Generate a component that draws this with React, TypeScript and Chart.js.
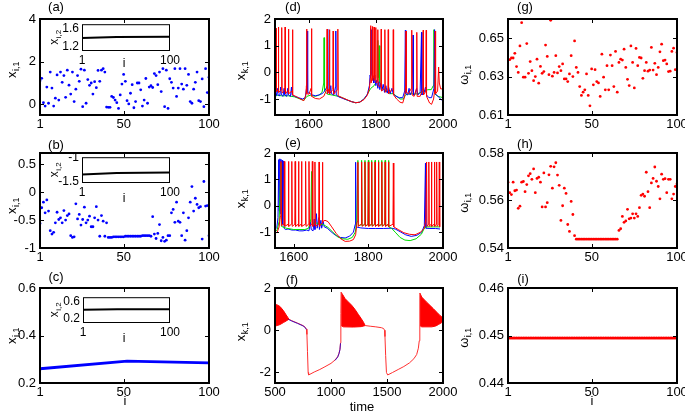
import { useEffect, useRef } from "react";
import { Chart, registerables } from "chart.js";
Chart.register(...registerables);

const FONT = "'Liberation Sans', Arial, Helvetica, sans-serif";

// ---------------- data ----------------
const INDEX = [
  1, 2, 3, 4, 5, 6, 7, 8, 9, 10, 11, 12, 13, 14, 15, 16, 17, 18, 19, 20,
  21, 22, 23, 24, 25, 26, 27, 28, 29, 30, 31, 32, 33, 34, 35, 36, 37, 38, 39, 40,
  41, 42, 43, 44, 45, 46, 47, 48, 49, 50, 51, 52, 53, 54, 55, 56, 57, 58, 59, 60,
  61, 62, 63, 64, 65, 66, 67, 68, 69, 70, 71, 72, 73, 74, 75, 76, 77, 78, 79, 80,
  81, 82, 83, 84, 85, 86, 87, 88, 89, 90, 91, 92, 93, 94, 95, 96, 97, 98, 99, 100,
];

const A_VALUES = [
  1.11, 1.22, 0.08, -0.08, 0.81, 0.05, 1.51, 0.76, -0.08, 0.29,
  1.38, 0.2, 1.51, 1.03, 1.35, 0.33, 1.6, 0.9, 0.48, 1.51,
  0.13, 0.71, 1.35, 1.08, 1.65, -0.11, 1.6, 0.05, 1.16, 0.89,
  1.0, 0.48, 1.06, 0.78, 1.59, 1.08, 1.6, 1.67, 1.51, -0.13,
  -0.14, -0.14, 0.37, 0.32, 0.2, 0.08, -0.19, 0.44, 0.95, 1.4,
  1.08, 0.17, 0.02, 0.52, 0.92, -0.16, 0.13, 1.0, 1.0, 0.68,
  -0.08, 0.2, 1.21, 0.05, 0.81, 0.87, 0.79, 1.44, 1.35, 0.92,
  1.51, 0.6, 1.67, -0.11, 1.6, -0.19, 1.2, 1.03, 0.76, 1.67,
  0.37, 0.76, 1.67, 0.95, 0.71, 1.67, 0.89, 1.4, 0.13, 0.05,
  0.71, 1.03, 1.51, 0.17, 0.13, 1.19, -0.11, 1.67, 0.55, 1.27,
];

const B_VALUES = [
  -0.56, -0.28, -0.18, -0.37, -0.14, -0.34, -0.69, -0.75, -0.72, -0.55,
  -0.36, -0.49, -0.46, -0.55, -0.33, -0.5, -0.42, -0.39, -0.78, -0.81,
  -0.8, -0.21, -0.48, -0.4, -0.59, -0.49, -0.27, -0.55, -0.5, -0.43,
  -0.62, -0.62, -0.46, -0.26, -0.5, -0.79, -0.42, -0.52, -0.79, -0.55,
  -0.81, -0.81, -0.81, -0.8, -0.8, -0.8, -0.8, -0.8, -0.8, -0.8,
  -0.79, -0.79, -0.79, -0.79, -0.79, -0.79, -0.79, -0.79, -0.79, -0.79,
  -0.78, -0.78, -0.78, -0.78, -0.78, -0.79, -0.44, -0.75, -0.83, -0.74,
  -0.58, -0.87, -0.81, -0.88, -0.86, -0.78, -0.78, -0.37, -0.31, -0.54,
  -0.18, -0.52, -0.54, -0.78, -0.37, -0.86, -0.69, -0.46, -0.18, 0.1,
  -0.34, -0.11, -0.22, -0.28, -0.26, -0.84, 0.19, -0.25, -0.24, -0.78,
];

const C_INDEX = [1, 52, 100];
const C_VALUES = [0.26, 0.292, 0.285];

const INSET_INDEX = [1, 40, 100];
const INSET_A = [1.39, 1.415, 1.42];
const INSET_B = [-1.34, -1.31, -1.3];
const INSET_C = [0.41, 0.418, 0.42];

const G_VALUES = [
  0.6386, 0.6388, 0.6397, 0.6397, 0.6421, 0.6352, 0.6322, 0.646, 0.6581, 0.6297,
  0.6297, 0.6472, 0.6317, 0.6378, 0.6331, 0.6279, 0.63, 0.6391, 0.6266, 0.6353,
  0.6317, 0.6326, 0.6464, 0.6405, 0.631, 0.6593, 0.6302, 0.6322, 0.6409, 0.6319,
  0.6352, 0.6331, 0.6366, 0.6288, 0.6288, 0.6274, 0.6314, 0.6409, 0.63, 0.6486,
  0.6348, 0.6322, 0.6248, 0.6202, 0.6219, 0.6231, 0.6314, 0.6202, 0.6148, 0.634,
  0.6257, 0.6336, 0.6274, 0.6267, 0.6197, 0.6417, 0.6297, 0.6231, 0.6357, 0.6231,
  0.6412, 0.6357, 0.6248, 0.6431, 0.6219, 0.6374, 0.6391, 0.6386, 0.6443, 0.6348,
  0.6286, 0.6253, 0.646, 0.6374, 0.6241, 0.6447, 0.6357, 0.64, 0.6397, 0.6291,
  0.6331, 0.6374, 0.6328, 0.6334, 0.6452, 0.6334, 0.6369, 0.631, 0.6348, 0.6429,
  0.6469, 0.6383, 0.6386, 0.6366, 0.6326, 0.6328, 0.6431, 0.6448, 0.6336, 0.6426,
];

const H_VALUES = [
  0.5677, 0.5633, 0.5625, 0.5677, 0.5641, 0.5644, 0.5567, 0.5576, 0.5677, 0.568,
  0.5637, 0.5667, 0.5704, 0.5713, 0.5689, 0.5733, 0.5633, 0.5693, 0.5698, 0.5677,
  0.5573, 0.5716, 0.5573, 0.5591, 0.5708, 0.5744, 0.5652, 0.5742, 0.5759, 0.5707,
  0.5664, 0.5516, 0.5578, 0.5652, 0.563, 0.5499, 0.547, 0.5596, 0.5541, 0.5452,
  0.5437, 0.5437, 0.5437, 0.5437, 0.5437, 0.5437, 0.5437, 0.5437, 0.5437, 0.5437,
  0.5437, 0.5437, 0.5437, 0.5437, 0.5437, 0.5437, 0.5437, 0.5437, 0.5437, 0.5437,
  0.5437, 0.5437, 0.5437, 0.5437, 0.5437, 0.5474, 0.5481, 0.5533, 0.5508, 0.5514,
  0.5563, 0.5523, 0.5526, 0.5544, 0.5526, 0.5544, 0.5533, 0.557, 0.5622, 0.5627,
  0.5618, 0.5719, 0.5637, 0.557, 0.5674, 0.5693, 0.5741, 0.5681, 0.5659, 0.5607,
  0.5711, 0.5689, 0.5692, 0.5633, 0.5689, 0.5689, 0.5607, 0.5627, 0.5659, 0.567,
];

const I_VALUES = [
  0.4495, 0.4495, 0.4495, 0.4495, 0.4495, 0.4495, 0.4495, 0.4495, 0.4495, 0.4495,
  0.4495, 0.4495, 0.4495, 0.4495, 0.4495, 0.4495, 0.4495, 0.4495, 0.4495, 0.4495,
  0.4495, 0.4495, 0.4495, 0.4495, 0.4495, 0.4495, 0.4495, 0.4495, 0.4495, 0.4495,
  0.4495, 0.4495, 0.4495, 0.4495, 0.4495, 0.4495, 0.4495, 0.4495, 0.4495, 0.4495,
  0.4495, 0.4495, 0.4495, 0.4495, 0.4495, 0.4495, 0.4495, 0.4495, 0.4495, 0.4495,
  0.4495, 0.4495, 0.4495, 0.4495, 0.4495, 0.4495, 0.4495, 0.4495, 0.4495, 0.4495,
  0.4495, 0.4495, 0.4495, 0.4495, 0.4495, 0.4495, 0.4495, 0.4495, 0.4495, 0.4495,
  0.4495, 0.4495, 0.4495, 0.4495, 0.4495, 0.4495, 0.4495, 0.4495, 0.4495, 0.4495,
  0.4495, 0.4495, 0.4495, 0.4495, 0.4495, 0.4495, 0.4495, 0.4495, 0.4495, 0.4495,
  0.4495, 0.4495, 0.4495, 0.4495, 0.4495, 0.4495, 0.4495, 0.4495, 0.4495, 0.4495,
];

// (d) time traces [time, x]
const D_RED = [
  [1500, -0.75], [1502, -0.68], [1503, 1.65], [1504.2, -0.72],
  [1509, -0.65], [1510, 1.7], [1511.2, -0.75],
  [1519, -0.66], [1520, 1.68], [1521.2, -0.78],
  [1529, -0.68], [1530, 1.7], [1531.2, -0.8],
  [1539, -0.68], [1540, 1.62], [1541.2, -0.8],
  [1551, -0.7], [1552, 1.6], [1553.2, -0.85],
  [1565, -0.92], [1578, -1.02], [1586, -1.06], [1592, -0.85], [1593.5, -0.5], [1594, 1.62], [1595.2, -0.8],
  [1601, -0.82], [1607.5, -0.6], [1608.5, 1.64], [1609.7, -0.9],
  [1620, -0.98], [1632, -1.0], [1645, -0.9], [1654, -0.65], [1655, 1.62], [1656.2, -0.8],
  [1661, -0.62], [1662, 1.6], [1663.2, -0.8],
  [1672, -0.65], [1673, 1.55], [1674.2, -0.82],
  [1686, -0.65], [1687, 1.62], [1688.2, -0.88],
  [1700, -0.95], [1715, -1.03], [1728, -1.1], [1740, -1.14], [1752, -1.12], [1765, -1.02], [1775, -0.85],
  [1781, -0.6], [1784, -0.2], [1785, 1.75], [1786, -0.4],
  [1789, -0.2], [1790, 1.72], [1791, -0.3],
  [1794, -0.1], [1795, 1.7], [1796, -0.3],
  [1799, -0.2], [1800, 1.68], [1801, -0.4],
  [1805, -0.35], [1806, 1.6], [1807, -0.5],
  [1815, -0.55], [1816, 1.62], [1817, -0.7],
  [1826, -0.6], [1827, 1.6], [1828, -0.75],
  [1836, -0.6], [1837, 1.6], [1838, -0.8],
  [1851, -0.6], [1852, 1.6], [1853, -0.85],
  [1862, -1.0], [1872, -1.12], [1880, -1.15], [1886, -0.9], [1889, -0.5], [1890, 1.55], [1891, -0.75],
  [1897, -0.8], [1906, -0.6], [1907, 1.58], [1908, -0.85],
  [1914, -0.9], [1921, -0.6], [1922, 1.5], [1923, -0.9],
  [1932, -0.9], [1940, -0.6], [1941, 1.58], [1942, -0.85],
  [1949, -0.7], [1950, 1.58], [1951, -0.9],
  [1960, -1.15], [1966, -1.2], [1972, -1.0], [1976, -0.6], [1977, 1.55], [1978, -0.8],
  [1984, -0.7], [1987, 0.2], [1989, -0.4], [1993, -0.62], [2000, -0.62],
];

const D_BLUE = [
  [1500, -0.85], [1504, -0.88], [1507, -0.6], [1509, -0.85], [1514, -0.88], [1517, -0.55], [1519, -0.85],
  [1524, -0.9], [1527, -0.6], [1529, -0.85], [1535, -0.9], [1538, -0.6], [1540, -0.85], [1546, -0.9],
  [1549, -0.55], [1551, -0.85], [1558, -0.9], [1570, -0.95], [1582, -1.0], [1590, -0.95], [1595, -0.5],
  [1596, 1.55], [1597.2, -0.75], [1604, -0.8], [1612, -0.85], [1620, -0.88],
  [1630, -0.85], [1640, -0.8], [1648, -0.7], [1656, -0.5], [1657, 1.62], [1658.2, -0.75], [1663, -0.8],
  [1666, -0.5], [1668, -0.8], [1675, -0.85], [1680, -0.55], [1681, 1.55], [1682.2, -0.85], [1690, -0.92],
  [1702, -0.98], [1715, -1.04], [1728, -1.1], [1740, -1.14], [1752, -1.12], [1765, -1.0], [1775, -0.82],
  [1781, -0.5], [1783, -0.1], [1784, 1.65], [1785, -0.2], [1787, 0.0], [1788, 1.6], [1789, -0.1],
  [1792, -0.2], [1794, -0.4], [1797, -0.1], [1800, -0.5], [1803, -0.3], [1806, -0.6], [1809, -0.35],
  [1812, -0.65], [1815, -0.4], [1818, -0.7], [1822, -0.45], [1826, -0.75], [1830, -0.5], [1834, -0.78],
  [1838, -0.55], [1843, -0.8], [1848, -0.6], [1852, -0.82], [1860, -0.9], [1870, -0.95], [1880, -0.95],
  [1886, -0.7], [1888, 1.58], [1889.2, -0.8], [1895, -0.85], [1899, -0.6], [1902, -0.85], [1908, -0.7],
  [1911, 1.4], [1912.2, -0.85], [1918, -0.8], [1922, -0.6], [1925, -0.85], [1932, -0.75], [1936, 1.5],
  [1937.2, -0.85], [1944, -0.75], [1948, -0.55], [1951, -0.85], [1958, -0.95], [1966, -0.95], [1973, -0.6],
  [1975, 1.6], [1976.2, -0.8], [1985, -0.9], [1993, -1.0], [2000, -1.08],
];

const D_GREEN = [
  [1500, -0.85], [1520, -0.88], [1540, -0.88], [1558, -0.92], [1575, -1.0], [1586, -1.05], [1595, -0.9],
  [1605, -0.86], [1620, -0.9], [1632, -0.85], [1640, -0.75], [1645, -0.4], [1646, 1.3], [1647.5, -0.7],
  [1656, -0.82], [1670, -0.85], [1688, -0.9], [1700, -0.95], [1715, -1.04], [1728, -1.1], [1740, -1.14],
  [1752, -1.12], [1765, -1.0], [1775, -0.82], [1785, -0.6], [1795, -0.5], [1804, -0.3], [1806, 1.2],
  [1808, -0.2], [1810, 1.0], [1812, -0.4], [1820, -0.6], [1840, -0.8], [1852, -0.8], [1862, -0.9],
  [1872, -1.0], [1882, -1.0], [1888, -0.85], [1895, -0.82], [1905, -0.8], [1915, -0.82], [1925, -0.8],
  [1935, -0.75], [1945, -0.7], [1955, -0.65], [1965, -0.65], [1971, -0.5], [1973, 1.6], [1974.5, -0.8],
  [1985, -0.9], [2000, -0.95],
];

// (e) time traces [time, x]
const E_RED = [
  [1550, -1.05], [1556, -1.0], [1561, -0.8], [1564, -0.4], [1566, 1.68], [1567.2, -0.75],
  [1574, -0.7], [1575, 1.68], [1576.2, -0.78], [1585, -0.7], [1586, 1.68], [1587.2, -0.78],
  [1594, -0.7], [1595, 1.68], [1596.2, -0.78], [1603, -0.7], [1604, 1.68], [1605.2, -0.78],
  [1612, -0.7], [1613, 1.68], [1614.2, -0.78], [1620, -0.7], [1621, 1.68], [1622.2, -0.78],
  [1631, -0.7], [1632, 1.68], [1633.2, -0.78], [1640, -0.7], [1641, 1.68], [1642.2, -0.78],
  [1649, -0.7], [1650, 1.68], [1651.2, -0.78], [1656, -0.7], [1657, 1.66], [1658.2, -0.78],
  [1667, -0.7], [1668, 1.66], [1669.2, -0.78], [1676, -0.65], [1677, 1.65], [1678.2, -0.6],
  [1684, -0.55], [1692, -0.6], [1702, -0.8], [1714, -1.05], [1726, -1.25], [1738, -1.35],
  [1750, -1.34], [1760, -1.28], [1766, -1.1], [1770, -0.6], [1772, 1.65], [1773.2, -0.78],
  [1781, -0.7], [1782, 1.66], [1783.2, -0.78], [1790, -0.7], [1791, 1.66], [1792.2, -0.78],
  [1799, -0.7], [1800, 1.66], [1801.2, -0.78], [1808, -0.7], [1809, 1.66], [1810.2, -0.78],
  [1817, -0.7], [1818, 1.66], [1819.2, -0.78], [1826, -0.7], [1827, 1.66], [1828.2, -0.78],
  [1835, -0.7], [1836, 1.66], [1837.2, -0.78], [1844, -0.7], [1845, 1.66], [1846.2, -0.78],
  [1853, -0.7], [1854, 1.66], [1855.2, -0.78], [1866, -0.7], [1867, 1.62], [1868.2, -0.8],
  [1880, -0.9], [1895, -1.02], [1910, -1.08], [1925, -1.1], [1940, -1.0], [1950, -0.85],
  [1954, -0.5], [1956, 1.66], [1957.2, -0.78], [1961, -0.7], [1962, 1.66], [1963.2, -0.78],
  [1968, -0.7], [1969, 1.66], [1970.2, -0.78], [1976, -0.7], [1977, 1.66], [1978.2, -0.78],
  [1982, -0.7], [1983, 1.66], [1984.2, -0.78], [1989, -0.7], [1990, 1.66], [1991.2, -0.8], [1992, -0.8],
];

const E_BLUE = [
  [1550, -0.9], [1555, -0.82], [1558, -0.45], [1560, 1.75], [1561.2, -0.2], [1563, 1.78], [1564.2, -0.3],
  [1566, 1.76], [1567.2, -0.5], [1569, 1.72], [1570.2, -0.7], [1573, 1.7], [1574.2, -0.85],
  [1578, -0.9], [1585, -0.88], [1595, -0.92], [1605, -0.92], [1615, -0.95], [1625, -0.95], [1635, -0.92],
  [1641, -0.95], [1645, -0.6], [1647, -0.9], [1652, -0.95], [1655, -0.5], [1657, -0.9], [1661, -0.3],
  [1663, -0.85], [1667, -0.45], [1669, -0.9], [1673, -0.55], [1675, -0.85], [1679, -0.6], [1682, -0.8],
  [1690, -0.85], [1700, -0.98], [1712, -1.12], [1725, -1.2], [1738, -1.22], [1750, -1.15], [1760, -1.0],
  [1765, -0.7], [1766, 1.65], [1767.2, -0.8], [1780, -0.84], [1800, -0.86], [1820, -0.86], [1840, -0.86],
  [1862, -0.85], [1872, -0.88], [1885, -0.98], [1900, -1.1], [1915, -1.16], [1930, -1.12], [1943, -1.0],
  [1950, -0.75], [1953, 1.62], [1954.2, -0.85], [1965, -0.86], [1980, -0.86], [1992, -0.88],
];

const E_GREEN = [
  [1550, -1.0], [1556, -0.9], [1561, -0.6], [1566, 1.62], [1567.2, -0.78], [1580, -0.85], [1600, -0.9],
  [1630, -0.9], [1640, -0.85], [1646, -0.5], [1648, 1.3], [1649.5, -0.6], [1656, -0.7], [1662, -0.65],
  [1670, -0.7], [1680, -0.72], [1692, -0.82], [1705, -1.0], [1718, -1.18], [1730, -1.25], [1745, -1.27],
  [1757, -1.2], [1765, -1.0], [1769, -0.6], [1772, 1.72], [1773.2, -0.75],
  [1781, -0.72], [1782, 1.72], [1783.2, -0.75], [1790, -0.72], [1791, 1.72], [1792.2, -0.75],
  [1799, -0.72], [1800, 1.72], [1801.2, -0.75], [1808, -0.72], [1809, 1.72], [1810.2, -0.75],
  [1817, -0.72], [1818, 1.72], [1819.2, -0.75], [1826, -0.72], [1827, 1.72], [1828.2, -0.75],
  [1835, -0.72], [1836, 1.72], [1837.2, -0.75], [1844, -0.72], [1845, 1.72], [1846.2, -0.75],
  [1853, -0.72], [1854, 1.72], [1855.2, -0.8], [1862, -0.85], [1872, -1.0], [1885, -1.2], [1898, -1.3],
  [1912, -1.32], [1928, -1.25], [1942, -1.08], [1950, -0.85], [1956, -0.8], [1975, -0.8], [1992, -0.8],
];

// (f) envelopes of the fast oscillation and the slow trace [time, x]
const F_UPPER_1 = [[500, 1.22], [520, 1.2], [545, 1.12], [575, 0.93], [600, 0.72], [615, 0.6], [625, 0.52]];
const F_LOWER_1 = [[500, 0.2], [520, 0.22], [545, 0.27], [575, 0.36], [600, 0.44], [615, 0.49], [625, 0.52]];
const F_UPPER_2 = [[1090, 1.8], [1105, 1.68], [1125, 1.5], [1155, 1.34], [1185, 1.18], [1215, 0.98], [1245, 0.74], [1270, 0.55], [1290, 0.38], [1305, 0.22]];
const F_LOWER_2 = [[1090, 0.22], [1110, 0.16], [1200, 0.15], [1270, 0.17], [1305, 0.22]];
const F_UPPER_3 = [[1794, 1.76], [1810, 1.57], [1854, 1.33], [1885, 1.17], [1914, 1.02], [1945, 0.85], [1973, 0.7], [2000, 0.58]];
const F_LOWER_3 = [[1794, 0.22], [1810, 0.16], [1900, 0.16], [1935, 0.2], [1960, 0.27], [1985, 0.35], [2000, 0.42]];
const F_RED_1 = [
  [625, 0.52], [650, 0.45], [700, 0.34], [750, 0.22], [770, 0.14], [780, 0.05], [785, -0.2], [790, -1.0],
  [796, -2.0], [800, -2.12], [850, -1.98], [900, -1.86], [946, -1.73], [1000, -1.57], [1036, -1.41],
  [1060, -1.25], [1071, -1.1], [1080, -0.9], [1085, -0.6], [1088, 0.8], [1090, 1.8],
];
const F_RED_2 = [
  [1305, 0.22], [1350, 0.19], [1400, 0.16], [1450, 0.12], [1470, 0.08], [1478, 0.0], [1482, -0.3],
  [1488, -1.2], [1495, -2.0], [1506, -2.12], [1550, -2.0], [1600, -1.86], [1650, -1.72], [1700, -1.55],
  [1740, -1.35], [1765, -1.15], [1780, -0.85], [1788, -0.5], [1792, 0.5], [1794, 1.76],
];
const F_BLUE_1 = [[620, 0.51], [650, 0.435], [700, 0.325], [750, 0.205], [770, 0.125], [780, 0.035]];
const F_BLUE_2 = [[1036, -1.43], [1060, -1.27], [1071, -1.12], [1080, -0.92], [1085, -0.62]];

// tick labels
const TICKS_I = [1, 50, 100];
const TICKS_I_INSET = [1, 100];
const A_Y_TICKS = [0, 2, 4];
const B_Y_TICKS = [-1, -0.5, 0, 0.5];
const C_Y_TICKS = [0.2, 0.4, 0.6];
const DE_X_TICKS = [1600, 1800, 2000];
const DE_Y_TICKS = [-1, 0, 1, 2];
const F_X_TICKS = [500, 1000, 1500, 2000];
const F_Y_TICKS = [-2, 0, 2];
const G_Y_TICKS = [0.61, 0.63, 0.65];
const H_Y_TICKS = [0.54, 0.56, 0.58];
const I_Y_TICKS = [0.44, 0.45, 0.46];
const INSET_A_TICKS = [1.2, 1.6];
const INSET_B_TICKS = [-1.5, -1];
const INSET_C_TICKS = [0.2, 0.6];

// ---------------- styling helpers ----------------
const BLUE = "#0000ff";
const RED = "#ff0000";
const GREEN = "#00dd00";

const dots = (vals: number[], color: string, radius = 1.4) => ({
  data: vals.map((v, k) => ({ x: INDEX[k], y: v })),
  showLine: false,
  pointRadius: radius,
  pointHoverRadius: 0,
  pointBackgroundColor: color,
  pointBorderWidth: 0,
  borderColor: color,
});

const path = (pairs: number[][], color: string, width = 1, extra: any = {}) => ({
  data: pairs.map(([x, y]) => ({ x, y })),
  borderColor: color,
  borderWidth: width,
  pointRadius: 0,
  pointHoverRadius: 0,
  tension: 0,
  fill: false,
  ...extra,
});

const series = (xs: number[], ys: number[], color: string, width: number) => ({
  data: ys.map((v, k) => ({ x: xs[k], y: v })),
  borderColor: color,
  borderWidth: width,
  pointRadius: 0,
  pointHoverRadius: 0,
  tension: 0,
  fill: false,
});

type Txt = { text: string; x: number; y: number; size: number };
type YTitle = { main: string; sub: string; x: number; y: number; size: number; subSize: number; shift: number };
type Panel = {
  box: number[];
  ext: number[];
  x: [number, number, number[]];
  y: [number, number, number[]];
  datasets: any[];
  font: number;
  boxWidth: number;
  tickLen: number;
  white?: boolean;
  texts: Txt[];
  ytitle: YTitle;
};

const COLS = [
  [40, 209],
  [275, 443],
  [508, 677],
];
const ROWS = [
  [19, 115],
  [153, 248],
  [288, 383],
];
const MAIN_EXT = [58, 19, 22, 30];
const INSET_EXT = [34, 10, 16, 22];
const mainBox = (c: number, r: number) => [COLS[c][0], ROWS[r][0], COLS[c][1], ROWS[r][1]];

const yTitle = (main: string, sub: string, x: number, y: number): YTitle => ({
  main, sub, x, y, size: 13, subSize: 9, shift: 3,
});

// Note: Chart.js paints dataset 0 on top, so the trace meant to be on top comes first.
const PANELS: Panel[] = [
  {
    box: mainBox(0, 0), ext: MAIN_EXT, x: [1, 100, TICKS_I], y: [-0.5, 4, A_Y_TICKS],
    datasets: [dots(A_VALUES, BLUE)], font: 13, boxWidth: 2, tickLen: 4,
    texts: [{ text: "(a)", x: 56, y: 7, size: 13 }],
    ytitle: yTitle("x", "i,1", 16, 70),
  },
  {
    box: mainBox(0, 1), ext: MAIN_EXT, x: [1, 100, TICKS_I], y: [-1, 0.7, B_Y_TICKS],
    datasets: [dots(B_VALUES, BLUE)], font: 13, boxWidth: 2, tickLen: 4,
    texts: [{ text: "(b)", x: 56, y: 145, size: 13 }],
    ytitle: yTitle("x", "i,1", 16, 206),
  },
  {
    box: mainBox(0, 2), ext: MAIN_EXT, x: [1, 100, TICKS_I], y: [0.2, 0.6, C_Y_TICKS],
    datasets: [series(C_INDEX, C_VALUES, BLUE, 2.8)], font: 13, boxWidth: 2, tickLen: 4,
    texts: [
      { text: "(c)", x: 56, y: 277, size: 13 },
      { text: "i", x: 125, y: 401, size: 13 },
    ],
    ytitle: yTitle("x", "i,1", 16, 336),
  },
  {
    box: mainBox(1, 0), ext: MAIN_EXT, x: [1500, 2000, DE_X_TICKS], y: [-1.6, 2, DE_Y_TICKS],
    datasets: [path(D_RED, RED), path(D_BLUE, BLUE), path(D_GREEN, GREEN)], font: 13, boxWidth: 2, tickLen: 4,
    texts: [{ text: "(d)", x: 293, y: 7, size: 13 }],
    ytitle: yTitle("x", "k,1", 245, 71),
  },
  {
    box: mainBox(1, 1), ext: MAIN_EXT, x: [1550, 2000, DE_X_TICKS], y: [-1.6, 2, DE_Y_TICKS],
    datasets: [path(E_RED, RED), path(E_GREEN, GREEN), path(E_BLUE, BLUE)], font: 13, boxWidth: 2, tickLen: 4,
    texts: [{ text: "(e)", x: 293, y: 143.5, size: 13 }],
    ytitle: yTitle("x", "k,1", 245, 199),
  },
  {
    box: mainBox(1, 2), ext: MAIN_EXT, x: [500, 2000, F_X_TICKS], y: [-2.5, 2, F_Y_TICKS],
    datasets: [
      path(F_BLUE_1, "rgba(40,0,200,0.85)", 1),
      path(F_BLUE_2, "rgba(40,0,200,0.85)", 1),
      path(F_RED_1, "#ff3030", 1),
      path(F_RED_2, "#ff3030", 1),
      path(F_LOWER_1, RED, 1),
      path(F_UPPER_1, RED, 1, { fill: "-1", backgroundColor: RED }),
      path(F_LOWER_2, RED, 1),
      path(F_UPPER_2, RED, 1, { fill: "-1", backgroundColor: RED }),
      path(F_LOWER_3, RED, 1),
      path(F_UPPER_3, RED, 1, { fill: "-1", backgroundColor: RED }),
    ],
    font: 13, boxWidth: 2, tickLen: 4,
    texts: [
      { text: "(f)", x: 292, y: 280, size: 13 },
      { text: "time", x: 362, y: 407, size: 13 },
    ],
    ytitle: yTitle("x", "k,1", 245, 332),
  },
  {
    box: mainBox(2, 0), ext: MAIN_EXT, x: [1, 100, TICKS_I], y: [0.61, 0.66, G_Y_TICKS],
    datasets: [dots(G_VALUES, RED)], font: 13, boxWidth: 2, tickLen: 4,
    texts: [{ text: "(g)", x: 525, y: 7, size: 13 }],
    ytitle: yTitle("ω", "i,1", 468, 75),
  },
  {
    box: mainBox(2, 1), ext: MAIN_EXT, x: [1, 100, TICKS_I], y: [0.54, 0.58, H_Y_TICKS],
    datasets: [dots(H_VALUES, RED)], font: 13, boxWidth: 2, tickLen: 4,
    texts: [{ text: "(h)", x: 525, y: 144, size: 13 }],
    ytitle: yTitle("ω", "i,1", 468, 203),
  },
  {
    box: mainBox(2, 2), ext: MAIN_EXT, x: [1, 100, TICKS_I], y: [0.44, 0.46, I_Y_TICKS],
    datasets: [{ ...dots(I_VALUES, RED, 1.5), showLine: true, borderWidth: 2 }], font: 13, boxWidth: 2, tickLen: 4,
    texts: [
      { text: "(i)", x: 523, y: 279, size: 13 },
      { text: "i", x: 592, y: 401, size: 13 },
    ],
    ytitle: yTitle("ω", "i,1", 468, 338),
  },
  // insets
  {
    box: [82, 24, 170, 51], ext: INSET_EXT, x: [1, 100, TICKS_I_INSET], y: [1.1, 1.7, INSET_A_TICKS],
    datasets: [series(INSET_INDEX, INSET_A, "#000", 2)], font: 12, boxWidth: 1, tickLen: 0, white: true,
    texts: [{ text: "i", x: 124, y: 64, size: 12 }],
    ytitle: { main: "x", sub: "i,2", x: 58, y: 37.5, size: 12, subSize: 8, shift: 3 },
  },
  {
    box: [82, 157, 170, 183], ext: INSET_EXT, x: [1, 100, TICKS_I_INSET], y: [-1.52, -0.98, INSET_B_TICKS],
    datasets: [series(INSET_INDEX, INSET_B, "#000", 2)], font: 12, boxWidth: 1, tickLen: 0, white: true,
    texts: [{ text: "i", x: 124, y: 199, size: 12 }],
    ytitle: { main: "x", sub: "i,2", x: 58, y: 170, size: 12, subSize: 8, shift: 3 },
  },
  {
    box: [83, 297, 170, 323], ext: INSET_EXT, x: [1, 100, TICKS_I_INSET], y: [0.1, 0.7, INSET_C_TICKS],
    datasets: [series(INSET_INDEX, INSET_C, "#000", 2)], font: 12, boxWidth: 1, tickLen: 0, white: true,
    texts: [{ text: "i", x: 124, y: 339, size: 12 }],
    ytitle: { main: "x", sub: "i,2", x: 58, y: 310, size: 12, subSize: 8, shift: 3 },
  },
];

function canvasRect(p: Panel) {
  const [L, T, R, B] = p.box;
  const [el, et, er, eb] = p.ext;
  return [L - el, T - et, R + er, B + eb];
}

function makeDecor(p: Panel) {
  const [cl, ct] = canvasRect(p);
  return {
    id: "decor",
    beforeDatasetsDraw(chart: any) {
      if (!p.white) return;
      const { ctx, chartArea: a } = chart;
      ctx.save();
      ctx.fillStyle = "#fff";
      ctx.fillRect(a.left, a.top, a.right - a.left, a.bottom - a.top);
      ctx.restore();
    },
    afterDraw(chart: any) {
      const { ctx, chartArea: a } = chart;
      const xs = chart.scales.x;
      const ys = chart.scales.y;
      ctx.save();
      ctx.strokeStyle = "#000";
      if (p.tickLen > 0) {
        ctx.lineWidth = 1;
        ctx.beginPath();
        xs.ticks.forEach((t: any) => {
          const px = Math.round(xs.getPixelForValue(t.value)) + 0.5;
          ctx.moveTo(px, a.bottom);
          ctx.lineTo(px, a.bottom - p.tickLen);
          ctx.moveTo(px, a.top);
          ctx.lineTo(px, a.top + p.tickLen);
        });
        ys.ticks.forEach((t: any) => {
          const py = Math.round(ys.getPixelForValue(t.value)) + 0.5;
          ctx.moveTo(a.left, py);
          ctx.lineTo(a.left + p.tickLen, py);
          ctx.moveTo(a.right, py);
          ctx.lineTo(a.right - p.tickLen, py);
        });
        ctx.stroke();
      }
      ctx.lineWidth = p.boxWidth;
      if (p.boxWidth % 2 === 1) {
        ctx.strokeRect(a.left + 0.5, a.top + 0.5, a.right - a.left - 1, a.bottom - a.top - 1);
      } else {
        ctx.strokeRect(a.left, a.top, a.right - a.left, a.bottom - a.top);
      }
      ctx.fillStyle = "#000";
      ctx.textAlign = "center";
      ctx.textBaseline = "middle";
      p.texts.forEach((t) => {
        ctx.font = `${t.size}px ${FONT}`;
        ctx.fillText(t.text, t.x - cl, t.y - ct);
      });
      const yt = p.ytitle;
      ctx.translate(yt.x - cl, yt.y - ct);
      ctx.rotate(-Math.PI / 2);
      const mainFont = `${yt.size}px ${FONT}`;
      const subFont = `${yt.subSize}px ${FONT}`;
      ctx.font = mainFont;
      const w1 = ctx.measureText(yt.main).width;
      ctx.font = subFont;
      const w2 = ctx.measureText(yt.sub).width;
      const start = -(w1 + w2) / 2;
      ctx.textAlign = "left";
      ctx.textBaseline = "alphabetic";
      ctx.font = mainFont;
      ctx.fillText(yt.main, start, 0);
      ctx.font = subFont;
      ctx.fillText(yt.sub, start + w1 + 0.5, yt.shift);
      ctx.restore();
    },
  };
}

function buildConfig(p: Panel): any {
  const [L, T, R, B] = p.box;
  const [cl, ct, cr, cb] = canvasRect(p);
  const tickFont = { family: FONT, size: p.font };
  return {
    type: "line",
    data: { datasets: p.datasets },
    options: {
      animation: false,
      responsive: false,
      maintainAspectRatio: false,
      devicePixelRatio: 1,
      events: [],
      layout: { padding: { left: 0, top: T - ct, right: cr - R, bottom: 0 } },
      plugins: { legend: { display: false }, tooltip: { enabled: false } },
      scales: {
        x: {
          type: "linear",
          position: "bottom",
          min: p.x[0],
          max: p.x[1],
          grid: { display: false, drawTicks: false },
          border: { display: false },
          ticks: {
            color: "#000",
            font: tickFont,
            padding: 2,
            maxRotation: 0,
            autoSkip: false,
            callback: (v: any) => String(v),
          },
          afterBuildTicks: (s: any) => {
            s.ticks = p.x[2].map((v) => ({ value: v }));
          },
          afterFit: (s: any) => {
            s.height = cb - B;
          },
        },
        y: {
          type: "linear",
          position: "left",
          min: p.y[0],
          max: p.y[1],
          grid: { display: false, drawTicks: false },
          border: { display: false },
          ticks: {
            color: "#000",
            font: tickFont,
            padding: p.font === 12 ? 3 : 4,
            autoSkip: false,
            callback: (v: any) => String(v),
          },
          afterBuildTicks: (s: any) => {
            s.ticks = p.y[2].map((v) => ({ value: v }));
          },
          afterFit: (s: any) => {
            s.width = L - cl;
          },
        },
      },
    },
    plugins: [makeDecor(p)],
  };
}

export default function App() {
  const refs = useRef<(HTMLCanvasElement | null)[]>([]);
  useEffect(() => {
    const charts = PANELS.map((p, k) => new Chart(refs.current[k] as HTMLCanvasElement, buildConfig(p)));
    return () => charts.forEach((c) => c.destroy());
  }, []);
  return (
    <div
      style={{
        position: "fixed",
        left: 0,
        top: 0,
        width: 685,
        height: 413,
        overflow: "hidden",
        background: "#fff",
      }}
    >
      {PANELS.map((p, k) => {
        const [cl, ct, cr, cb] = canvasRect(p);
        return (
          <canvas
            key={k}
            ref={(el) => {
              refs.current[k] = el;
            }}
            width={cr - cl}
            height={cb - ct}
            style={{ position: "absolute", left: cl, top: ct, width: cr - cl, height: cb - ct }}
          />
        );
      })}
    </div>
  );
}
